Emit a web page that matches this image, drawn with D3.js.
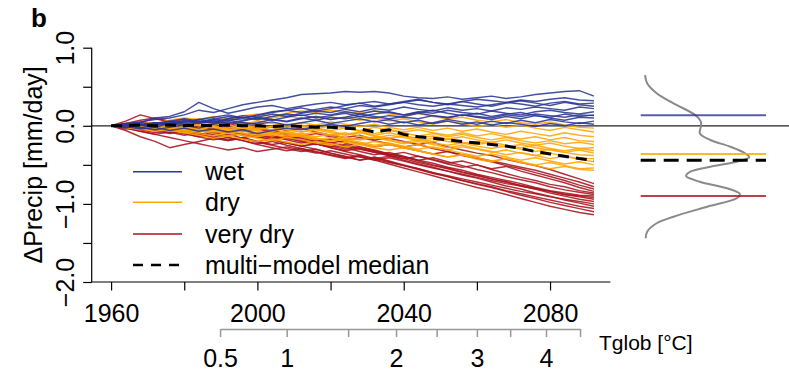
<!DOCTYPE html>
<html><head><meta charset="utf-8">
<script src="https://cdn.jsdelivr.net/npm/d3@7"></script>
<style>
html,body{margin:0;padding:0;background:#fff;}
svg{display:block;font-family:"Liberation Sans",Arial,Helvetica,sans-serif;}
</style></head><body>
<svg id="chart" width="789" height="371"></svg>
<script>
// Simulation years (every 4 years)
const years = d3.range(1960, 2093, 4);

// Precipitation change [mm/day], one row per model, grouped by class
const wet = [
  [0,.03,.05,.08,.10,.14,.20,.17,.22,.27,.30,.33,.36,.40,.41,.42,.44,.43,.44,.42,.38,.36,.35,.37,.34,.36,.38,.35,.37,.40,.42,.44,.45,.38],
  [0,.02,.04,.10,.12,.18,.30,.22,.16,.20,.24,.26,.22,.25,.28,.30,.27,.29,.31,.28,.30,.33,.30,.28,.31,.34,.32,.30,.33,.31,.34,.36,.33,.32],
  [0,-.02,.02,.00,.04,.06,.03,.08,.12,.10,.14,.18,.20,.17,.21,.24,.22,.26,.24,.27,.30,.27,.25,.28,.26,.24,.27,.30,.28,.25,.29,.31,.28,.29],
  [0,.01,-.03,.02,.05,.02,.06,.04,.09,.13,.11,.15,.12,.16,.19,.17,.21,.18,.22,.20,.24,.21,.19,.23,.20,.22,.19,.23,.21,.24,.22,.20,.24,.22],
  [0,.03,.01,.04,.02,.07,.05,.09,.06,.11,.08,.12,.15,.13,.16,.14,.18,.15,.19,.17,.14,.18,.16,.20,.17,.15,.19,.16,.14,.18,.20,.17,.15,.18],
  [0,-.03,.01,-.02,.03,.00,.04,.07,.03,.06,.10,.07,.11,.14,.10,.13,.16,.12,.15,.18,.14,.17,.20,.16,.13,.16,.12,.15,.17,.13,.11,.15,.12,.14],
  [0,.02,-.02,-.05,-.02,.01,-.03,.02,.05,.01,.04,.08,.05,.09,.12,.08,.11,.15,.12,.09,.12,.16,.13,.10,.14,.11,.08,.12,.09,.13,.10,.07,.11,.10],
  [0,-.01,-.04,-.02,-.06,-.03,-.07,-.04,-.08,-.05,-.10,-.06,-.03,-.05,-.01,.02,-.01,.03,.06,.02,.05,.01,.04,.08,.05,.02,.06,.03,.07,.04,.08,.05,.03,.06],
  [0,.01,.04,.02,.06,.09,.06,.03,.07,.04,.02,.05,.01,.04,.07,.03,.06,.09,.05,.08,.04,.07,.03,.06,.02,.05,.01,.04,.02,-.01,.03,.00,.04,.02],
  [0,.02,.00,.03,.06,.04,.08,.11,.14,.10,.13,.17,.20,.23,.19,.22,.26,.29,.25,.28,.31,.34,.30,.27,.31,.28,.25,.29,.32,.29,.26,.30,.27,.25],
  [0,-.02,.01,.04,.01,.05,.08,.05,.09,.07,.11,.08,.06,.10,.07,.11,.09,.12,.10,.13,.11,.09,.13,.11,.14,.12,.10,.14,.12,.15,.13,.11,.14,.13]
];
const dry = [
  [0,.02,.05,.03,.07,.10,.08,.12,.09,.13,.15,.12,.16,.19,.17,.20,.18,.16,.19,.15,.13,.16,.12,.09,.11,.07,.05,.08,.04,.02,.05,.01,-.02,-.03],
  [0,.03,.01,.04,.02,.06,.09,.05,.08,.11,.07,.10,.13,.09,.12,.08,.11,.07,.10,.06,.09,.05,.02,.06,.03,-.01,.02,-.02,.01,-.03,-.06,-.02,-.05,-.08],
  [0,-.02,.01,-.01,.03,.00,.04,.01,.05,.02,.06,.03,.00,.04,.01,.05,.02,-.01,.02,-.02,-.05,-.02,-.06,-.03,-.07,-.04,-.08,-.11,-.07,-.10,-.13,-.09,-.12,-.14],
  [0,.01,-.02,.02,-.01,.03,.00,-.03,.01,-.02,-.05,-.01,.02,-.01,-.04,.00,-.03,-.06,-.02,-.05,-.08,-.05,-.09,-.12,-.09,-.13,-.10,-.14,-.17,-.14,-.18,-.15,-.19,-.20],
  [0,-.01,.02,.00,-.03,.00,.03,.00,-.03,.01,-.02,-.05,-.02,.01,-.03,-.06,-.03,-.07,-.10,-.06,-.09,-.13,-.10,-.14,-.11,-.15,-.18,-.15,-.19,-.22,-.19,-.23,-.21,-.24],
  [0,.02,-.01,-.04,-.01,-.05,-.02,-.06,-.03,.00,-.04,-.01,-.05,-.08,-.04,-.07,-.11,-.08,-.12,-.09,-.13,-.16,-.13,-.17,-.14,-.18,-.21,-.18,-.22,-.25,-.22,-.26,-.29,-.28],
  [0,-.03,-.01,-.04,-.07,-.04,-.08,-.05,-.09,-.06,-.10,-.07,-.04,-.08,-.05,-.09,-.12,-.09,-.13,-.16,-.13,-.17,-.20,-.17,-.21,-.24,-.21,-.25,-.28,-.25,-.29,-.32,-.29,-.32],
  [0,.01,.03,.00,.02,-.01,-.04,-.01,-.05,-.02,-.06,-.10,-.07,-.11,-.08,-.12,-.09,-.13,-.16,-.12,-.15,-.19,-.16,-.20,-.23,-.20,-.24,-.27,-.24,-.28,-.31,-.34,-.31,-.35],
  [0,-.02,-.05,-.02,-.06,-.09,-.06,-.10,-.13,-.10,-.14,-.11,-.15,-.12,-.16,-.19,-.15,-.18,-.14,-.18,-.21,-.18,-.22,-.25,-.22,-.26,-.29,-.26,-.30,-.33,-.30,-.34,-.37,-.38],
  [0,.01,-.02,-.05,-.03,-.07,-.10,-.13,-.09,-.12,-.16,-.19,-.15,-.18,-.22,-.25,-.21,-.24,-.20,-.23,-.27,-.24,-.28,-.31,-.27,-.30,-.34,-.31,-.35,-.38,-.35,-.39,-.42,-.42],
  [0,-.01,.02,-.01,-.04,-.02,-.05,-.08,-.05,-.09,-.12,-.09,-.13,-.10,-.14,-.11,-.15,-.18,-.15,-.19,-.23,-.20,-.24,-.28,-.25,-.29,-.33,-.37,-.34,-.38,-.42,-.39,-.43,-.46],
  [0,.02,.00,.03,.01,-.02,.01,-.03,-.06,-.03,-.07,-.11,-.08,-.12,-.16,-.20,-.17,-.21,-.25,-.22,-.26,-.30,-.27,-.31,-.35,-.39,-.36,-.40,-.44,-.41,-.45,-.49,-.46,-.50],
  [0,-.02,-.04,-.07,-.05,-.09,-.12,-.16,-.13,-.17,-.20,-.17,-.21,-.24,-.20,-.23,-.27,-.24,-.28,-.31,-.28,-.32,-.36,-.40,-.37,-.41,-.45,-.42,-.46,-.50,-.47,-.51,-.55,-.54],
  [0,.01,-.02,.01,-.03,-.06,-.03,-.07,-.10,-.06,-.09,-.13,-.10,-.14,-.18,-.15,-.19,-.23,-.27,-.24,-.28,-.32,-.36,-.40,-.37,-.43,-.46,-.42,-.47,-.51,-.55,-.52,-.56,-.57]
];
const veryDry = [
  [0,.06,.14,.09,.05,.08,.03,.06,.01,.04,.02,-.02,-.06,-.03,-.08,-.12,-.15,-.12,-.18,-.16,-.20,-.24,-.21,-.27,-.31,-.35,-.38,-.43,-.47,-.51,-.56,-.62,-.68,-.74],
  [0,.02,.05,.02,-.01,.03,.00,-.04,-.01,-.05,-.02,-.06,-.10,-.13,-.10,-.14,-.18,-.15,-.19,-.23,-.27,-.24,-.29,-.33,-.37,-.41,-.45,-.49,-.53,-.57,-.62,-.67,-.72,-.78],
  [0,-.02,.01,-.03,-.06,-.03,-.07,-.04,-.08,-.12,-.09,-.13,-.17,-.14,-.18,-.22,-.19,-.23,-.27,-.24,-.28,-.32,-.36,-.33,-.38,-.42,-.46,-.51,-.55,-.60,-.65,-.70,-.76,-.81],
  [0,.01,-.02,-.06,-.03,-.08,-.12,-.09,-.13,-.10,-.14,-.18,-.15,-.19,-.23,-.27,-.24,-.29,-.33,-.37,-.34,-.39,-.43,-.48,-.45,-.50,-.55,-.52,-.58,-.63,-.68,-.73,-.79,-.84],
  [0,-.03,-.07,-.11,-.08,-.12,-.09,-.14,-.18,-.15,-.20,-.17,-.22,-.26,-.23,-.28,-.32,-.29,-.34,-.38,-.42,-.39,-.44,-.49,-.53,-.50,-.56,-.61,-.66,-.70,-.75,-.78,-.83,-.86],
  [0,-.06,-.14,-.20,-.28,-.24,-.20,-.16,-.19,-.15,-.12,-.16,-.13,-.18,-.22,-.26,-.30,-.27,-.32,-.36,-.40,-.44,-.41,-.46,-.51,-.56,-.60,-.65,-.69,-.73,-.78,-.82,-.85,-.88],
  [0,.02,-.01,.03,.00,-.04,-.01,-.05,-.09,-.06,-.10,-.14,-.18,-.22,-.19,-.24,-.28,-.33,-.37,-.34,-.39,-.44,-.48,-.53,-.57,-.62,-.66,-.70,-.74,-.79,-.83,-.86,-.89,-.90],
  [0,-.03,-.07,-.11,-.15,-.19,-.23,-.27,-.31,-.28,-.33,-.30,-.27,-.31,-.35,-.32,-.36,-.40,-.44,-.41,-.45,-.50,-.54,-.58,-.62,-.66,-.70,-.74,-.77,-.81,-.84,-.88,-.90,-.92],
  [0,-.01,.02,-.02,-.05,-.02,-.06,-.10,-.07,-.11,-.15,-.12,-.16,-.20,-.24,-.21,-.26,-.30,-.34,-.38,-.42,-.47,-.51,-.55,-.60,-.64,-.68,-.72,-.76,-.80,-.84,-.88,-.91,-.94],
  [0,.03,.07,.10,.06,.02,-.02,.01,-.03,-.07,-.04,-.08,-.12,-.16,-.20,-.17,-.22,-.27,-.31,-.36,-.40,-.45,-.50,-.54,-.59,-.63,-.68,-.72,-.77,-.81,-.86,-.90,-.94,-.97],
  [0,-.02,-.05,-.09,-.06,-.10,-.14,-.11,-.15,-.19,-.23,-.20,-.25,-.29,-.33,-.37,-.41,-.38,-.43,-.47,-.51,-.55,-.60,-.64,-.68,-.72,-.76,-.80,-.84,-.87,-.91,-.94,-.97,-1.00],
  [0,.01,-.03,.00,-.04,-.08,-.05,-.09,-.13,-.10,-.14,-.18,-.22,-.26,-.23,-.28,-.33,-.37,-.42,-.39,-.44,-.49,-.53,-.58,-.63,-.67,-.72,-.77,-.81,-.86,-.90,-.95,-.99,-1.03],
  [0,-.04,-.01,-.05,-.09,-.06,-.10,-.14,-.11,-.16,-.20,-.24,-.21,-.26,-.30,-.35,-.39,-.44,-.41,-.46,-.51,-.56,-.61,-.65,-.70,-.74,-.78,-.83,-.87,-.91,-.95,-.99,-1.03,-1.06],
  [0,.02,-.02,-.06,-.10,-.07,-.11,-.15,-.19,-.16,-.21,-.25,-.29,-.33,-.30,-.35,-.40,-.44,-.40,-.45,-.50,-.55,-.60,-.65,-.70,-.75,-.79,-.84,-.89,-.93,-.98,-1.02,-1.06,-1.10],
  [0,-.02,-.05,-.02,-.06,-.10,-.14,-.18,-.15,-.19,-.24,-.28,-.32,-.29,-.34,-.38,-.42,-.39,-.44,-.49,-.54,-.59,-.64,-.69,-.74,-.79,-.83,-.88,-.93,-.98,-1.03,-1.07,-1.11,-1.14]
];
// Multi-model median
const median = [0,.00,.01,.00,.01,.00,.01,.00,.01,.00,.00,-.01,.00,-.01,-.02,-.02,-.03,-.04,-.08,-.05,-.11,-.14,-.16,-.18,-.20,-.22,-.24,-.26,-.29,-.33,-.36,-.39,-.42,-.44];

// Axis ticks and labels
const xTicks = [1960, 1980, 2000, 2020, 2040, 2060, 2080];
const xLabelled = [1960, 2000, 2040, 2080];
const yTicks = [1, 0.5, 0, -0.5, -1, -1.5, -2];
const yLabelled = [1, 0, -1, -2];
// Global warming level reached in each year
const tglobTicks = [0.5, 1, 1.5, 2, 2.5, 3, 3.5, 4, 4.5];
const tglobYears = [1989.8, 2008.0, 2024.8, 2037.9, 2049.0, 2060.0, 2069.1, 2078.9, 2088.2];
const tglobLabelled = [0.5, 1, 2, 3, 4];

// Distribution of end-of-century change across models
const densValue  = [0.65,0.544,0.416,0.288,0.134,0.052,-0.012,-0.096,-0.182,-0.268,-0.352,-0.403,-0.46,-0.524,-0.588,-0.643,-0.716,-0.80,-0.873,-0.928,-1.036,-1.164,-1.248,-1.356,-1.44];
const densHeight = [0.01,0.03,0.12,0.28,0.49,0.54,0.54,0.53,0.63,0.82,0.96,1.0,0.88,0.63,0.44,0.40,0.53,0.79,0.91,0.88,0.60,0.28,0.12,0.03,0.016];
// Class medians shown beside the distribution
const classLevels = [0.134, -0.36, -0.90];
const medianLevel = -0.44;

const legendLabels = ["wet", "dry", "very dry", "multi\u2212model median"];
const colors = ["#2a3794", "#ffa500", "#a8131f"];

const svg = d3.select("#chart");
const W = 789, H = 371;
svg.append("rect").attr("width", W).attr("height", H).attr("fill", "#fff");

const x = d3.scaleLinear().domain([1954.7, 2096.5]).range([91.7, 610.4]);
const y = d3.scaleLinear().domain([-2, 1]).range([282, 47.7]);
const FS = 25;
const minus = s => s.replace("-", "\u2212");

// zero line across both panels
svg.append("line").attr("x1", x.range()[0]).attr("x2", W)
  .attr("y1", y(0)).attr("y2", y(0)).attr("stroke", "#222").attr("stroke-width", 1.2);

const line = d3.line().x((d, i) => x(years[i])).y(d => y(d));
const groups = [veryDry, dry, wet];
const groupColors = [colors[2], colors[1], colors[0]];
groups.forEach((g, gi) => {
  svg.append("g").selectAll("path").data(g).join("path")
    .attr("d", line).attr("fill", "none")
    .attr("stroke", groupColors[gi]).attr("stroke-width", 1.45)
    .attr("stroke-opacity", 0.88).attr("stroke-linejoin", "round");
});
svg.append("path").datum(median).attr("d", line).attr("fill", "none")
  .attr("stroke", "#000").attr("stroke-width", 3).attr("stroke-dasharray", "11,7");

// box (left and bottom)
svg.append("path")
  .attr("d", `M${x.range()[0]},${y(1)}V${y(-2)}H${x.range()[1]}`)
  .attr("fill", "none").attr("stroke", "#000").attr("stroke-width", 1.2);

// x axis
const xAxis = svg.append("g").attr("transform", `translate(0,${y(-2)})`)
  .call(d3.axisBottom(x).tickValues(xTicks).tickSize(8.5).tickSizeOuter(0)
    .tickFormat(d => xLabelled.includes(d) ? String(d) : ""));
xAxis.select(".domain").remove();
xAxis.selectAll("line").attr("stroke", "#000").attr("stroke-width", 1.2);
xAxis.selectAll("text").attr("font-size", FS).attr("font-family", null)
  .attr("fill", "#000").attr("dy", null).attr("y", 40);

// y axis with rotated labels
const yAxis = svg.append("g").attr("transform", `translate(${x.range()[0]},0)`)
  .call(d3.axisLeft(y).tickValues(yTicks).tickSize(8.5).tickSizeOuter(0)
    .tickFormat(d => yLabelled.includes(d) ? minus(d3.format(".1f")(d)) : ""));
yAxis.select(".domain").remove();
yAxis.selectAll("line").attr("stroke", "#000").attr("stroke-width", 1.2);
yAxis.selectAll("text").attr("font-size", FS).attr("font-family", null)
  .attr("fill", "#000").attr("x", 0).attr("dy", null)
  .attr("text-anchor", "middle")
  .attr("transform", "translate(-17.7,0) rotate(-90)");

// y title
svg.append("text").attr("transform", `translate(42,${(y(1) + y(-2)) / 2}) rotate(-90)`)
  .attr("text-anchor", "middle").attr("font-size", FS).text("\u0394Precip [mm/day]");

// panel letter
svg.append("text").attr("x", 31).attr("y", 27).attr("font-size", 26)
  .attr("font-weight", "bold").text("b");

// global temperature axis
const tx = d3.scaleLinear().domain(tglobTicks).range(tglobYears.map(x));
const tAxis = svg.append("g").attr("transform", "translate(0,329)")
  .call(d3.axisBottom(tx).tickValues(tglobTicks).tickSize(8).tickSizeOuter(0)
    .tickFormat(d => tglobLabelled.includes(d) ? String(d) : ""));
tAxis.select(".domain").attr("stroke", "#999").attr("stroke-width", 1.5);
tAxis.selectAll("line").attr("stroke", "#999").attr("stroke-width", 1.5);
tAxis.selectAll("text").attr("font-size", FS).attr("font-family", null)
  .attr("fill", "#000").attr("dy", null).attr("y", 38);
svg.append("text").attr("x", 599).attr("y", 350).attr("font-size", 21)
  .text("Tglob [\u00b0C]");

// legend
const legY = [171.7, 202.3, 234, 265];
legendLabels.forEach((lab, i) => {
  const ly = legY[i];
  const ln = svg.append("line").attr("x1", 133).attr("x2", 182)
    .attr("y1", ly).attr("y2", ly);
  if (i < 3) ln.attr("stroke", colors[i]).attr("stroke-width", 1.5);
  else ln.attr("stroke", "#000").attr("stroke-width", 2.5).attr("stroke-dasharray", "10,8");
  svg.append("text").attr("x", 205).attr("y", ly + 8.5).attr("font-size", FS).text(lab);
});

// distribution panel
const dx = d3.scaleLinear().domain([0, 1]).range([644, 749.3]);
const densPts = densValue.map((v, i) => [dx(densHeight[i]), y(v)]);
svg.append("path").attr("d", d3.line().curve(d3.curveCatmullRom)(densPts))
  .attr("fill", "none").attr("stroke", "#8a8a8a").attr("stroke-width", 2);
classLevels.forEach((v, i) => {
  svg.append("line").attr("x1", 640.7).attr("x2", 766)
    .attr("y1", y(v)).attr("y2", y(v))
    .attr("stroke", colors[i]).attr("stroke-opacity", 0.8).attr("stroke-width", 2);
});
svg.append("line").attr("x1", 640.7).attr("x2", 766)
  .attr("y1", y(medianLevel)).attr("y2", y(medianLevel))
  .attr("stroke", "#000").attr("stroke-width", 3).attr("stroke-dasharray", "15,8");
</script>
</body></html>
